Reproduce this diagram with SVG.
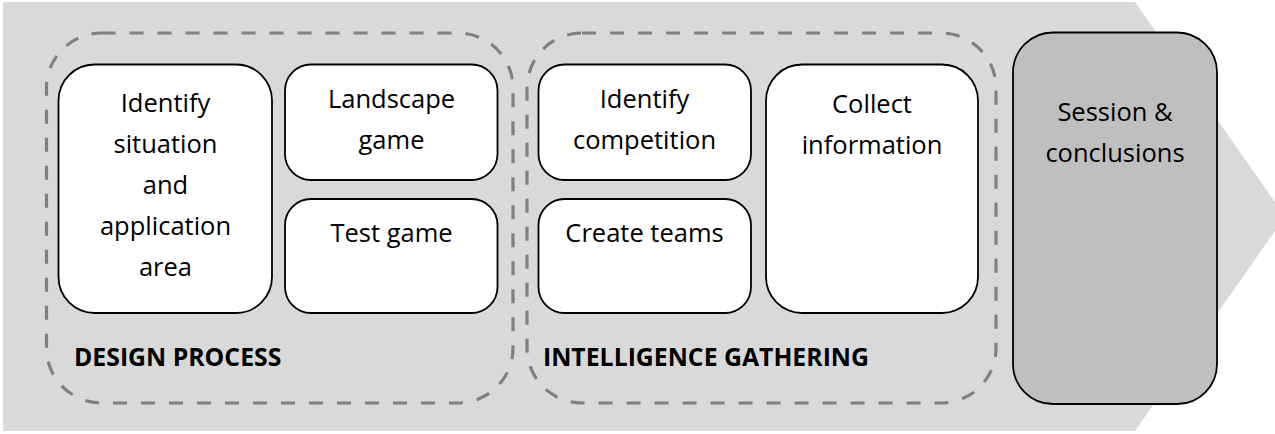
<svg xmlns="http://www.w3.org/2000/svg" width="1275" height="434" viewBox="0 0 1275 434">
  <style>
    .bg { fill: #d9d9d9; }
    .phase { fill: none; stroke: #808080; stroke-width: 3.2; stroke-dasharray: 14 14; }
    .box { fill: #ffffff; stroke: #000000; stroke-width: 1.8; }
    .box.final { fill: #bfbfbf; }
    .t { font-family: "Open Sans", "Liberation Sans", sans-serif; font-size: 25.5px; fill: #000000; text-anchor: middle; }
    .lbl { font-family: "Open Sans", "Liberation Sans", sans-serif; font-size: 24.8px; font-weight: bold; fill: #000000; }
  </style>

  <!-- process chevron -->
  <polygon class="bg" points="3,2 1135,2 1285,216.5 1135,431 3,431"/>

  <!-- phase groupings -->
  <g id="phase-design">
    <rect class="phase" x="46.5" y="33" width="466.5" height="370" rx="55" ry="55"/>
    <text class="lbl" x="74" y="366">DESIGN PROCESS</text>
  </g>
  <g id="phase-intelligence">
    <rect class="phase" x="527" y="33" width="469" height="370" rx="55" ry="55"/>
    <text class="lbl" x="543" y="366">INTELLIGENCE GATHERING</text>
  </g>

  <!-- steps -->
  <g id="identify-situation">
    <rect class="box" x="58.5" y="64.5" width="213.5" height="248.5" rx="36" ry="36"/>
    <text class="t" x="165.5" y="112">Identify</text>
    <text class="t" x="165.5" y="153">situation</text>
    <text class="t" x="165.5" y="194">and</text>
    <text class="t" x="165.5" y="235">application</text>
    <text class="t" x="165.5" y="276">area</text>
  </g>
  <g id="landscape-game">
    <rect class="box" x="285" y="64.5" width="212.5" height="115.5" rx="26" ry="26"/>
    <text class="t" x="391.5" y="108">Landscape</text>
    <text class="t" x="391.5" y="149">game</text>
  </g>
  <g id="test-game">
    <rect class="box" x="285" y="199" width="212.5" height="114" rx="26" ry="26"/>
    <text class="t" x="391.5" y="242">Test game</text>
  </g>
  <g id="identify-competition">
    <rect class="box" x="538.5" y="64.5" width="212.5" height="115.5" rx="26" ry="26"/>
    <text class="t" x="644.5" y="108">Identify</text>
    <text class="t" x="644.5" y="149">competition</text>
  </g>
  <g id="create-teams">
    <rect class="box" x="538.5" y="199" width="212.5" height="114" rx="26" ry="26"/>
    <text class="t" x="644.5" y="242">Create teams</text>
  </g>
  <g id="collect-information">
    <rect class="box" x="766" y="64.5" width="212" height="248.5" rx="36" ry="36"/>
    <text class="t" x="872" y="113">Collect</text>
    <text class="t" x="872" y="154">information</text>
  </g>
  <g id="session-conclusions">
    <rect class="box final" x="1013" y="32.5" width="204" height="371.5" rx="40" ry="40"/>
    <text class="t" x="1115" y="121">Session &amp;</text>
    <text class="t" x="1115" y="162">conclusions</text>
  </g>

  <!-- no connectors: steps are grouped by phase inside the chevron -->
  <g id="connectors"/>
</svg>
